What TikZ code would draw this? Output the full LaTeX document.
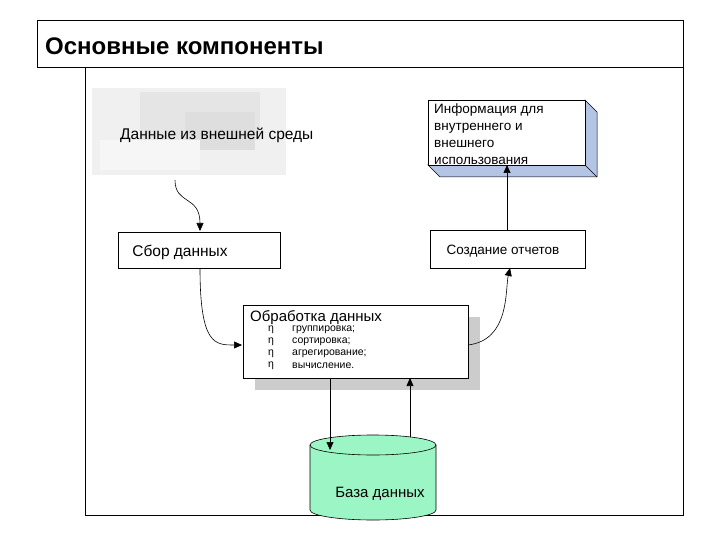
\documentclass[tikz,border=0pt]{standalone}
\usepackage{fontspec}
\setmainfont{Liberation Sans}
\usetikzlibrary{arrows.meta,shapes.geometric}
\definecolor{side}{HTML}{B4C4E4}
\definecolor{dbc}{HTML}{9CF5C4}
\begin{document}
\begin{tikzpicture}[x=1pt,y=-1pt,
  box/.style={draw=black,fill=white,line width=0.6pt},
  arr/.style={-{Triangle[length=8pt,width=7pt]},line width=0.6pt},
  txt/.style={font=\fontsize{13.5}{15}\selectfont,inner sep=0pt}]
\useasboundingbox (0,0) rectangle (720,540);
\fill[white] (0,0) rectangle (720,540);
% title
\node[draw=black,line width=0.6pt,minimum width=646pt,minimum height=47pt,anchor=north west,inner sep=0pt] (title) at (37,20) {};
\node[anchor=west,inner sep=0pt,font=\bfseries\fontsize{24}{26}\selectfont] (ttext) at (45,46) {Основные компоненты};
% frame
\draw[line width=0.6pt] (85,67) rectangle (683,515);
% cloud
\fill[gray!12] (92,88) rectangle (286,175);
\fill[gray!20] (140,92) rectangle (260,140);
\fill[gray!26] (185,112) rectangle (255,150);
\fill[gray!7] (100,140) rectangle (200,170);
\node[txt,anchor=west,font=\fontsize{15.5}{17}\selectfont] (ext) at (120,135) {Данные из внешней среды};
\coordinate (extb) at (175,180);
% info 3D
\fill[side,draw=black,line width=0.5pt] (585,100) -- (597,112) -- (597,177) -- (440,177) -- (428,165) -- (585,165) -- cycle;
\draw[line width=0.5pt] (585,165) -- (597,177);
\node[box,minimum width=157pt,minimum height=65pt,anchor=north west,inner sep=0pt] (info) at (428,100) {};
\node[txt,anchor=north west,align=left,font=\fontsize{13.5}{17}\selectfont] (infot) at (434,104) {Информация для\\внутреннего и\\внешнего\\использования};
% sbor
\node[box,minimum width=162pt,minimum height=36pt,anchor=north west,inner sep=0pt] (sbor) at (118,232) {};
\node[txt,font=\fontsize{15.5}{17}\selectfont] at (180,252) {Сбор данных};
% sozdanie
\node[box,minimum width=155pt,minimum height=38pt,anchor=north west,inner sep=0pt] (otch) at (430,230) {};
\node[txt] at (503,251) {Создание отчетов};
% processing
\fill[gray!40] (255,317) rectangle (480,390);
\node[box,minimum width=225pt,minimum height=73pt,anchor=north west,inner sep=0pt] (proc) at (243,305) {};
\node[txt,anchor=north west,font=\fontsize{15}{16}\selectfont] at (250,310) {Обработка данных};
\foreach \t [count=\i] in {группировка;,сортировка;,агрегирование;,вычисление.}{
  \node[txt,anchor=west,font=\fontsize{10.5}{11}\selectfont] at (268,318+\i*12) {η};
  \node[txt,anchor=west,font=\fontsize{10.5}{11}\selectfont] at (292,318+\i*12) {\t};
}
% cylinder
\coordinate (db) at (373,445);
\draw[fill=dbc,line width=0.6pt] (310,445) -- (310,510) arc[start angle=180,end angle=360,x radius=63,y radius=-10] -- (436,445) arc[start angle=0,end angle=180,x radius=63,y radius=-10] -- cycle;
\draw[line width=0.6pt] (310,445) arc[start angle=180,end angle=360,x radius=63,y radius=-10];
\node[txt,font=\fontsize{15}{17}\selectfont] at (380,494) {База данных};
% arrows
\draw[arr] (extb) .. controls (175,205) and (200,195) .. (200,231);
\draw[arr] (200,268) .. controls (200,345) and (215,345) .. (242,345);
\draw[arr] (468,345) .. controls (510,340) and (505,290) .. (510,268);
\draw[arr] (507,230) -- (507,165);
\draw[arr] (330,378) -- (330,450);
\draw[arr] (410,437) -- (410,378);
\end{tikzpicture}
\end{document}
